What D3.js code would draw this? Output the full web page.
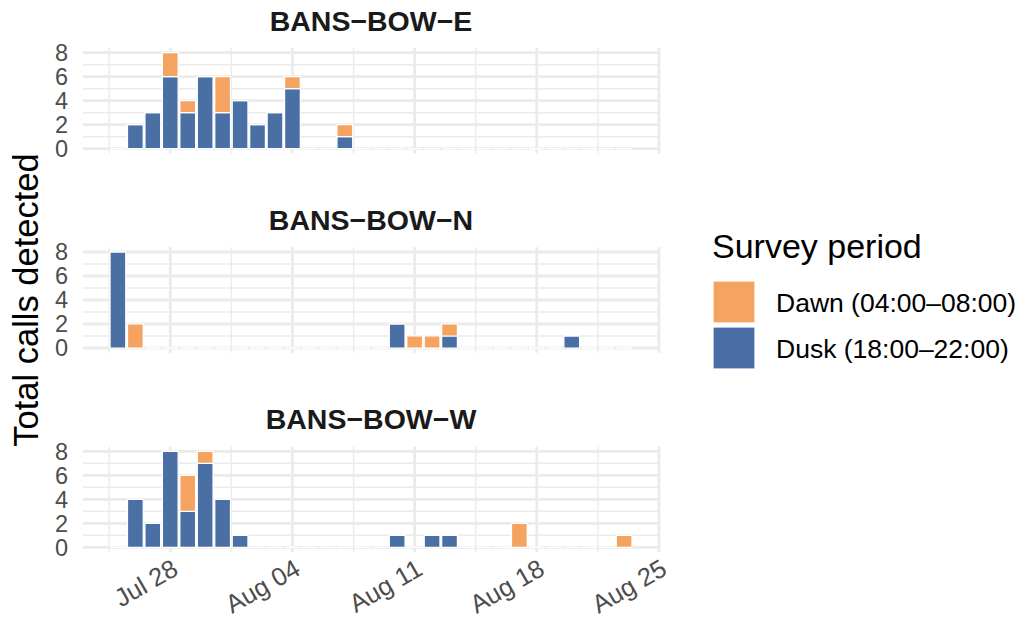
<!DOCTYPE html>
<html>
<head>
<meta charset="utf-8">
<script src="https://cdn.jsdelivr.net/npm/d3@7"></script>
<style>
  body { margin: 0; background: #fff; }
  text { font-family: "Liberation Sans", Arial, Helvetica, sans-serif; }
</style>
</head>
<body>
<svg id="chart" width="1019" height="630"></svg>
<script>
// Survey nights (one bar per date)
const dates = [
  "2024-07-25","2024-07-26","2024-07-27","2024-07-28","2024-07-29","2024-07-30",
  "2024-07-31","2024-08-01","2024-08-02","2024-08-03","2024-08-04","2024-08-05",
  "2024-08-06","2024-08-07","2024-08-08","2024-08-09","2024-08-10","2024-08-11",
  "2024-08-12","2024-08-13","2024-08-14","2024-08-15","2024-08-16","2024-08-17",
  "2024-08-18","2024-08-19","2024-08-20","2024-08-21","2024-08-22","2024-08-23"
];

const sites = ["BANS\u2212BOW\u2212E", "BANS\u2212BOW\u2212N", "BANS\u2212BOW\u2212W"];

// Calls detected per date, by site and survey period
const duskE = [0,2,3,6,3,6,3,4,2,3,5,0,0,1,0,0,0,0,0,0,0,0,0,0,0,0,0,0,0,0];
const dawnE = [0,0,0,2,1,0,3,0,0,0,1,0,0,1,0,0,0,0,0,0,0,0,0,0,0,0,0,0,0,0];
const duskN = [8,0,0,0,0,0,0,0,0,0,0,0,0,0,0,0,2,0,0,1,0,0,0,0,0,0,1,0,0,0];
const dawnN = [0,2,0,0,0,0,0,0,0,0,0,0,0,0,0,0,0,1,1,1,0,0,0,0,0,0,0,0,0,0];
const duskW = [0,4,2,8,3,7,4,1,0,0,0,0,0,0,0,0,1,0,1,1,0,0,0,0,0,0,0,0,0,0];
const dawnW = [0,0,0,0,3,1,0,0,0,0,0,0,0,0,0,0,0,0,0,0,0,0,0,2,0,0,0,0,0,1];

const periods = ["Dawn (04:00\u201308:00)", "Dusk (18:00\u201322:00)"];
const periodColors = ["#F4A460", "#4A6FA5"];

const xTickLabels = ["Jul 28", "Aug 04", "Aug 11", "Aug 18", "Aug 25"];
const xTickDates = ["2024-07-28", "2024-08-04", "2024-08-11", "2024-08-18", "2024-08-25"];
const yTicks = [0, 2, 4, 6, 8];
const yMinor = [1, 3, 5, 7];

const panelData = [
  { site: sites[0], dusk: duskE, dawn: dawnE },
  { site: sites[1], dusk: duskN, dawn: dawnN },
  { site: sites[2], dusk: duskW, dawn: dawnW }
];

const parse = d3.utcParse("%Y-%m-%d");
const DAY = 864e5;
const days = dates.map(parse);

const svg = d3.select("#chart");

// layout
const panelLeft = 83, panelRight = 659;
const panelTops = [47.9, 247.2, 446.5];
const panelH = 105.6;

// x domain padded by 5% of the bar extent on both sides
const barLo = +days[0] - DAY / 2, barHi = +days[days.length - 1] + DAY / 2;
const pad = (barHi - barLo) * 0.05;
const x = d3.scaleUtc()
  .domain([new Date(barLo - pad), new Date(barHi + pad)])
  .range([panelLeft, panelRight]);
const barHalf = (x(new Date(DAY)) - x(new Date(0))) * 0.45;

const yMax = 8;
const majorX = xTickDates.map(parse);
const minorX = majorX.map(d => new Date(+d - 3.5 * DAY));

const gridColor = "#EBEBEB";

panelData.forEach((p, pi) => {
  const top = panelTops[pi];
  const y = d3.scaleLinear()
    .domain([-yMax * 0.05, yMax * 1.05])
    .range([top + panelH, top]);

  const g = svg.append("g");

  // minor grid
  g.selectAll(".ymin").data(yMinor).join("line")
    .attr("x1", panelLeft).attr("x2", panelRight)
    .attr("y1", d => y(d)).attr("y2", d => y(d))
    .attr("stroke", gridColor).attr("stroke-width", 1.4);
  g.selectAll(".xmin").data(minorX).join("line")
    .attr("x1", d => x(d)).attr("x2", d => x(d))
    .attr("y1", top).attr("y2", top + panelH)
    .attr("stroke", gridColor).attr("stroke-width", 1.4);
  // major grid
  g.selectAll(".ymaj").data(yTicks).join("line")
    .attr("x1", panelLeft).attr("x2", panelRight)
    .attr("y1", d => y(d)).attr("y2", d => y(d))
    .attr("stroke", gridColor).attr("stroke-width", 2.8);
  g.selectAll(".xmaj").data(majorX).join("line")
    .attr("x1", d => x(d)).attr("x2", d => x(d))
    .attr("y1", top).attr("y2", top + panelH)
    .attr("stroke", gridColor).attr("stroke-width", 2.8);

  // stacked bars: dusk at the bottom, dawn on top
  const segs = [];
  days.forEach((d, i) => {
    const dk = p.dusk[i], dn = p.dawn[i];
    segs.push({ d, y0: 0, y1: dk, color: periodColors[1] });
    segs.push({ d, y0: dk, y1: dk + dn, color: periodColors[0] });
  });
  g.selectAll(".bar").data(segs).join("path")
    .attr("d", s => {
      const x0 = x(s.d) - barHalf, x1 = x(s.d) + barHalf;
      return `M${x0},${y(s.y0)}H${x1}V${y(s.y1)}H${x0}Z`;
    })
    .attr("fill", s => s.color)
    .attr("stroke", "#fff")
    .attr("stroke-width", 1.2);

  // y tick labels
  g.selectAll(".ylab").data(yTicks).join("text")
    .attr("x", 68).attr("y", d => y(d))
    .attr("dy", "0.36em")
    .attr("text-anchor", "end")
    .attr("font-size", 23.5)
    .attr("fill", "#4D4D4D")
    .text(d => d);

  // strip title
  g.append("text")
    .attr("x", (panelLeft + panelRight) / 2)
    .attr("y", top - 17.2)
    .attr("text-anchor", "middle")
    .attr("font-size", 28.5)
    .attr("font-weight", "bold")
    .attr("fill", "#1A1A1A")
    .text(p.site);

  // x tick labels on the bottom panel only
  if (pi === panelData.length - 1) {
    const ty = top + panelH + 5;
    g.selectAll(".xlab").data(majorX).join("text")
      .attr("transform", d => `translate(${x(d)},${ty}) rotate(-30)`)
      .attr("dy", "0.75em")
      .attr("text-anchor", "end")
      .attr("font-size", 25.5)
      .attr("fill", "#4D4D4D")
      .text((d, i) => xTickLabels[i]);
  }
});

// y axis title
svg.append("text")
  .attr("transform", `translate(38,${(panelTops[0] + panelTops[2] + panelH) / 2}) rotate(-90)`)
  .attr("text-anchor", "middle")
  .attr("font-size", 34.5)
  .attr("fill", "#000")
  .text("Total calls detected");

// legend
const lg = svg.append("g");
lg.append("text")
  .attr("x", 712).attr("y", 258)
  .attr("font-size", 34)
  .attr("fill", "#000")
  .text("Survey period");
const keyY = [281, 327];
periods.forEach((lab, i) => {
  lg.append("rect")
    .attr("x", 713).attr("y", keyY[i])
    .attr("width", 42).attr("height", 42)
    .attr("fill", periodColors[i])
    .attr("stroke", "#fff").attr("stroke-width", 1.2);
  lg.append("text")
    .attr("x", 776).attr("y", keyY[i] + 21)
    .attr("dy", "0.36em")
    .attr("font-size", 26.5)
    .attr("fill", "#000")
    .text(lab);
});
</script>
</body>
</html>
